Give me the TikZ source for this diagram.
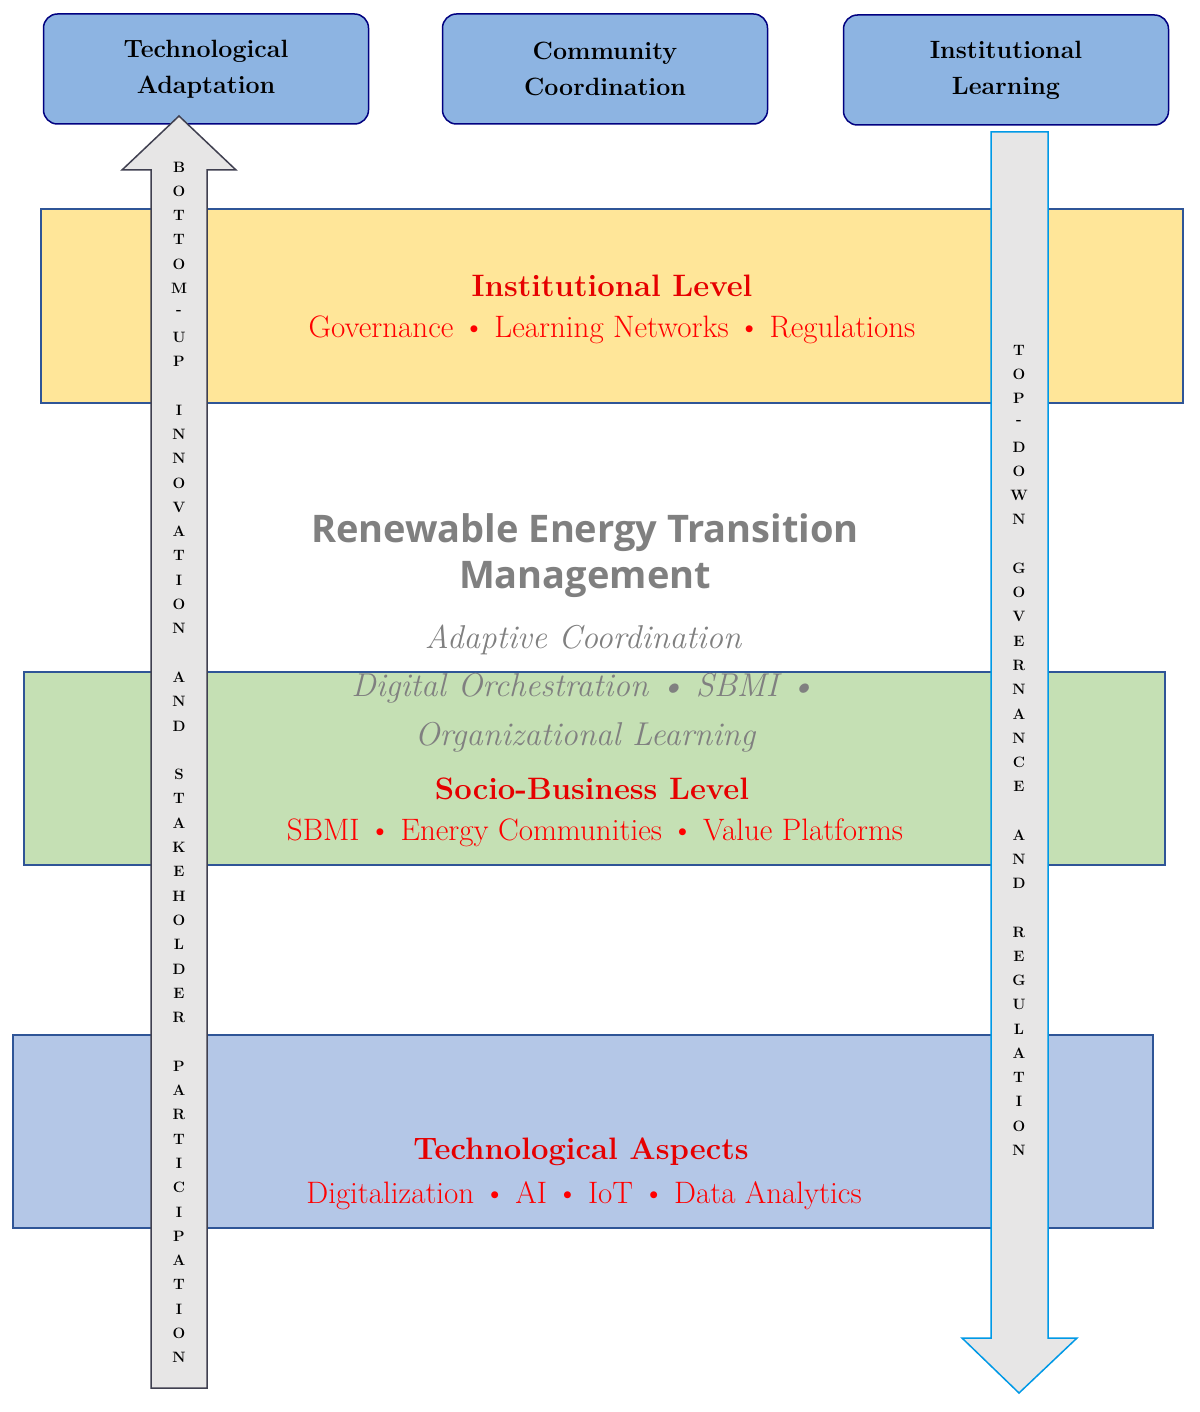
\documentclass[tikz,border=0pt]{standalone}
\usepackage{fontspec}
\newfontfamily\sansf{Open Sans}
\newfontfamily\serf{Liberation Serif}
\begin{document}
\begin{tikzpicture}[x=1pt,y=-1pt,
  topbox/.style={draw=blue!50!black,line width=1.5pt,fill={rgb,255:red,141;green,180;blue,226},rounded corners=14pt,minimum width=325pt,minimum height=110pt,align=center,font=\fontsize{25}{36}\selectfont\bfseries},
  band/.style={draw={rgb,255:red,47;green,85;blue,151},line width=1.2pt},
  redt/.style={text={rgb,255:red,255;green,0;blue,0},font=\fontsize{31}{36}\selectfont},
  redb/.style={text={rgb,255:red,230;green,0;blue,0},font=\fontsize{31}{36}\selectfont\bfseries},
  grayi/.style={text=gray,font=\fontsize{33}{38}\selectfont\itshape},
  arr/.style={fill={rgb,255:red,231;green,230;blue,230},line width=1.5pt},
  letter/.style={font=\fontsize{15}{15}\selectfont\bfseries,inner sep=0pt}]
\useasboundingbox (0,0) rectangle (1199,1412);
\fill[white] (0,0) rectangle (1199,1412);
% bands
\draw[band,fill={rgb,255:red,255;green,230;blue,153}] (41,209) rectangle (1183,403);
\draw[band,fill={rgb,255:red,197;green,224;blue,180}] (24,672) rectangle (1165,865);
\draw[band,fill={rgb,255:red,180;green,199;blue,231}] (13,1035) rectangle (1153,1228);
% top boxes
\node[topbox] (ta) at (206,69) {Technological\\Adaptation};
\node[topbox] (cc) at (605,69) {Community\\Coordination};
\node[topbox] (il) at (1006,70) {Institutional\\Learning};
% arrows
\draw[arr,draw={rgb,255:red,64;green,64;blue,80}] (151,1388) -- (151,170) -- (122,170) -- (179,116) -- (236,170) -- (207,170) -- (207,1388) -- cycle;
\draw[arr,draw={rgb,255:red,0;green,153;blue,230}] (991,132) -- (991,1338) -- (962,1338) -- (1019,1393) -- (1077,1338) -- (1048,1338) -- (1048,132) -- cycle;
\foreach \c [count=\i] in {B,O,T,T,O,M,-,U,P,{},I,N,N,O,V,A,T,I,O,N,{},A,N,D,{},S,T,A,K,E,H,O,L,D,E,R,{},P,A,R,T,I,C,I,P,A,T,I,O,N}
  \node[letter] (l\i) at (179,{167+(\i-1)*24.3}) {\c};
\foreach \c [count=\i] in {T,O,P,-,D,O,W,N,{},G,O,V,E,R,N,A,N,C,E,{},A,N,D,{},R,E,G,U,L,A,T,I,O,N}
  \node[letter] (r\i) at (1019,{350+(\i-1)*24.25}) {\c};
% texts
\node[redb] (t1) at (612,286) {Institutional Level};
\node[redt] (t2) at (612,330) {Governance \textbullet{} Learning Networks \textbullet{} Regulations};
\node[text=gray,font=\sansf\fontsize{38}{46}\selectfont\bfseries,align=center] (t3) at (585,556) {Renewable Energy Transition\\Management};
\node[grayi] (t4) at (583,640) {Adaptive Coordination};
\node[grayi] (t5) at (583,688) {Digital Orchestration \textbullet{} SBMI \textbullet};
\node[grayi] (t6) at (585,737) {Organizational Learning};
\node[redb] (t7) at (592,789) {Socio-Business Level};
\node[redt] (t8) at (595,833) {SBMI \textbullet{} Energy Communities \textbullet{} Value Platforms};
\node[redb] (t9) at (581,1152) {Technological Aspects};
\node[redt] (t10) at (584,1196) {Digitalization \textbullet{} AI \textbullet{} IoT \textbullet{} Data Analytics};
\end{tikzpicture}
\end{document}
